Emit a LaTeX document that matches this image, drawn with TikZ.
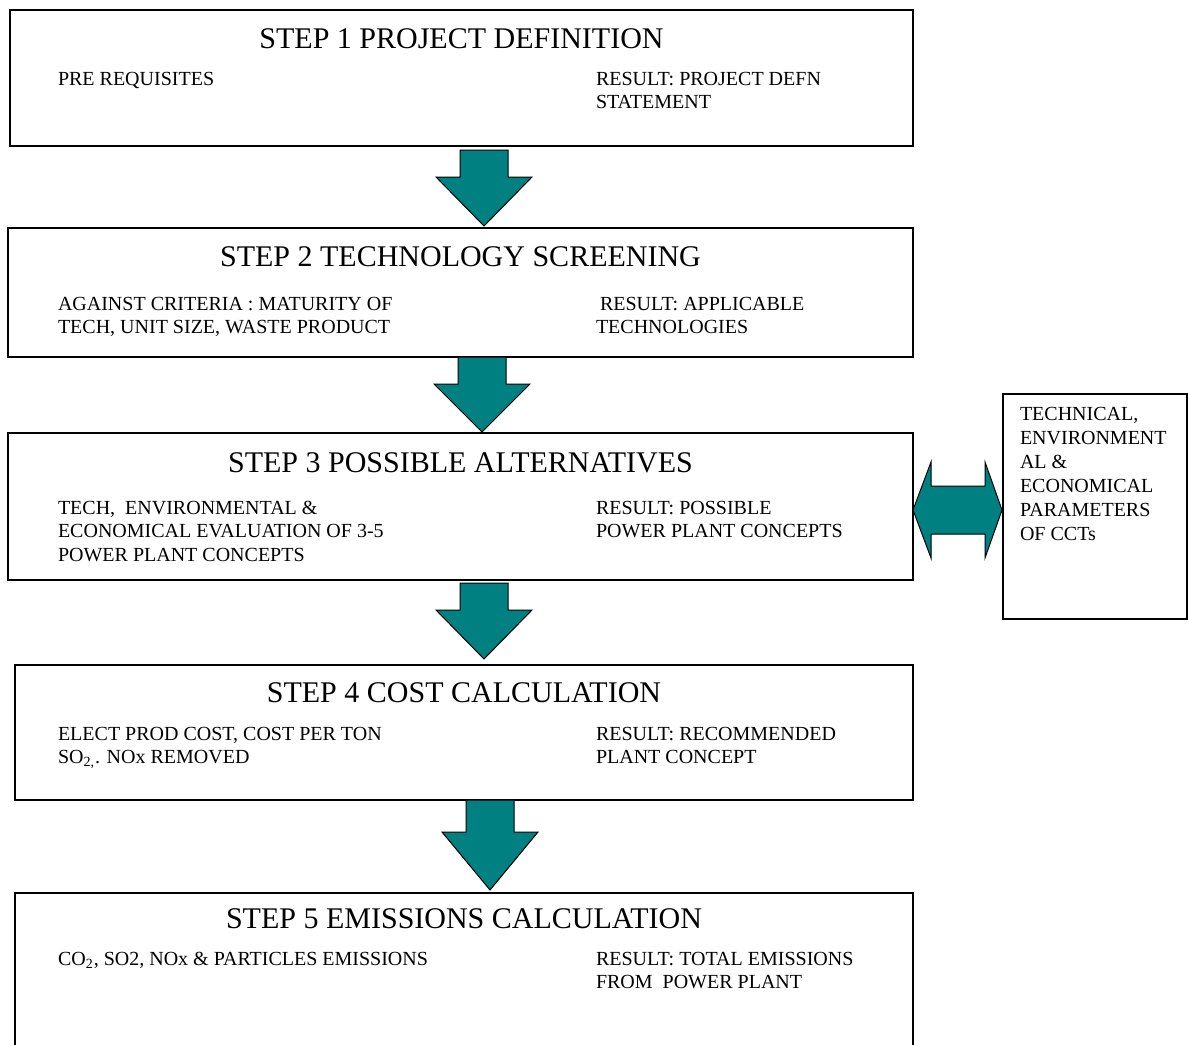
\documentclass[tikz,border=0pt]{standalone}
\usepackage{fontspec}
\setmainfont{Liberation Serif}
\usetikzlibrary{positioning,calc,fit}
\definecolor{flowteal}{HTML}{008080}
\tikzset{
  stepbox/.style   = {draw=black, line width=1pt, inner sep=0pt, outer sep=0pt},
  steptitle/.style = {font=\fontsize{15}{18}\selectfont, anchor=base, inner sep=0pt, outer sep=0pt},
  steptext/.style  = {font=\fontsize{10}{11.75}\selectfont, align=left, anchor=north west, inner sep=0pt, outer sep=0pt},
  sidetext/.style  = {font=\fontsize{10}{12}\selectfont, align=left, anchor=north west, inner sep=0pt, outer sep=0pt},
  fatarrow/.style  = {draw=black, line width=0.5pt, fill=flowteal, line join=miter},
}
% fat downward arrow: #1 top of the shaft, #2 tip, #3 length of the head
\newcommand{\stepflow}[3]{%
  \path #1 coordinate (ft) #2 coordinate (fh);
  \draw[fatarrow] ($(fh |- ft)+(-24,0)$) -- ($(fh |- ft)+(24,0)$) -- ($(fh)+(24,-#3)$)
    -- ($(fh)+(48,-#3)$) -- (fh) -- ($(fh)+(-48,-#3)$) -- ($(fh)+(-24,-#3)$) -- cycle;
}

\begin{document}
\begin{tikzpicture}[x=0.5pt,y=-0.5pt]
\path[use as bounding box] (0,0) rectangle (1188,1044);

% ---- step 1 -------------------------------------------------------------
\node[stepbox, fit={(10,10) (913,146)}] (s1) {};
\node[steptitle] (t1) at ($(s1.north)+(0,38)$) {STEP 1 PROJECT DEFINITION};
\node[steptext] (l1) at (58,72) {PRE REQUISITES};
\node[steptext] (r1) at (596,72) {RESULT: PROJECT DEFN\\STATEMENT};

% ---- step 2 -------------------------------------------------------------
\node[stepbox, fit={(8,228) (913,357)}] (s2) {};
\node[steptitle] (t2) at ($(s2.north)+(0,38)$) {STEP 2 TECHNOLOGY SCREENING};
\node[steptext] (l2) at (58,297) {AGAINST CRITERIA : MATURITY OF\\TECH, UNIT SIZE, WASTE PRODUCT};
\node[steptext] (r2) at (596,297) {\hspace*{2pt}RESULT: APPLICABLE\\TECHNOLOGIES};

% ---- step 3 -------------------------------------------------------------
\node[stepbox, fit={(8,433) (913,580)}] (s3) {};
\node[steptitle] (t3) at ($(s3.north)+(0,39)$) {STEP 3 POSSIBLE ALTERNATIVES};
\node[steptext] (l3) at (58,501) {TECH,~ ENVIRONMENTAL \&\\ECONOMICAL EVALUATION OF 3-5\\POWER PLANT CONCEPTS};
\node[steptext] (r3) at (596,501) {RESULT: POSSIBLE\\POWER PLANT CONCEPTS};

% ---- step 4 -------------------------------------------------------------
\node[stepbox, fit={(15,665) (913,800)}] (s4) {};
\node[steptitle] (t4) at ($(s4.north)+(0,37)$) {STEP 4 COST CALCULATION};
\node[steptext] (l4) at (58,727) {ELECT PROD COST, COST PER TON\\SO\textsubscript{2,}. NOx REMOVED};
\node[steptext] (r4) at (596,727) {RESULT: RECOMMENDED\\PLANT CONCEPT};

% ---- step 5 (runs off the bottom edge) ----------------------------------
\node[stepbox, fit={(15,893) (913,1052)}] (s5) {};
\node[steptitle] (t5) at ($(s5.north)+(0,35)$) {STEP 5 EMISSIONS CALCULATION};
\node[steptext] (l5) at (58,952) {CO\textsubscript{2}, SO2, NOx \& PARTICLES EMISSIONS};
\node[steptext] (r5) at (596,952) {RESULT: TOTAL EMISSIONS\\FROM~ POWER PLANT};

% ---- parameters box on the right ----------------------------------------
\node[stepbox, fit={(1003,394) (1187,619)}] (side) {};
\node[sidetext] (sp) at (1020,407) {TECHNICAL,\\ENVIRONMENT\\AL \&\\ECONOMICAL\\PARAMETERS\\OF CCTs};

% ---- arrows between the steps -------------------------------------------
\stepflow{($(s1.south)+(22.5,4)$)}{($(s2.north)+(23.5,-2)$)}{49}
\stepflow{($(s2.south)+(21.5,0)$)}{($(s3.north)+(21.5,-1)$)}{48}
\stepflow{($(s3.south)+(23.5,3)$)}{($(s4.north)+(20,-6)$)}{49}
\stepflow{($(s4.south)+(26,0)$)}{($(s5.north)+(26,-3)$)}{58}

% two-way arrow to the parameters box
\path ($(s3.east)+(0,3.5)$) coordinate (ta) ($(side.west)+(-1,3.5)$) coordinate (tb);
\draw[fatarrow] (ta) -- ($(ta)+(18,-48)$) -- ($(ta)+(18,-24)$) -- ($(tb)+(-17,-24)$)
  -- ($(tb)+(-17,-48)$) -- (tb) -- ($(tb)+(-17,48)$) -- ($(tb)+(-17,24)$)
  -- ($(ta)+(18,24)$) -- ($(ta)+(18,48)$) -- cycle;

\end{tikzpicture}
\end{document}
